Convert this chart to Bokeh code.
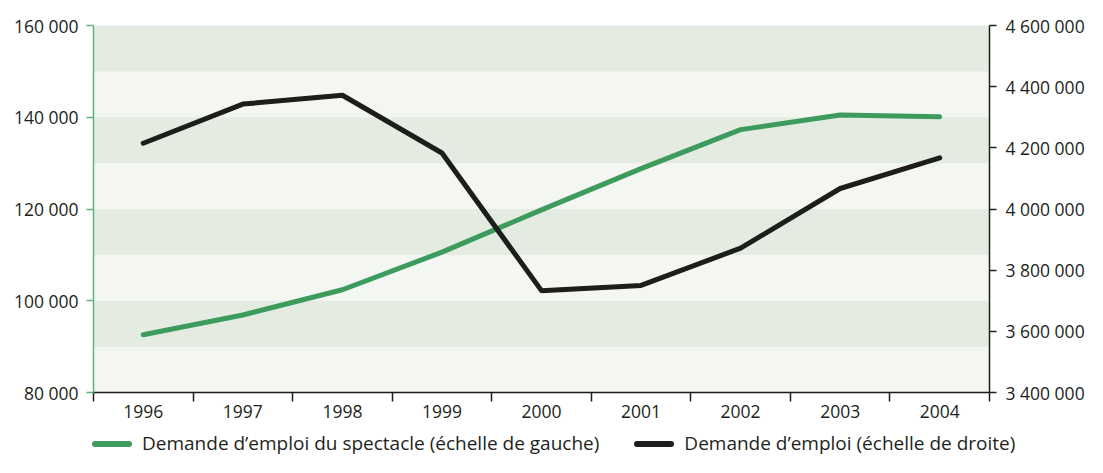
from bokeh.plotting import figure
from bokeh.layouts import column
from bokeh.models import Range1d, LinearAxis, FixedTicker, Div
from bokeh.embed import file_html
from bokeh.resources import INLINE

years = ["1996", "1997", "1998", "1999", "2000", "2001", "2002", "2003", "2004"]
spectacle = [92600, 96900, 102400, 110600, 119800, 128800, 137300, 140500, 140100]
emploi = [4215000, 4343000, 4372000, 4183000, 3733000, 3750000, 3872000, 4067000, 4167000]
left_ticks = [80000, 100000, 120000, 140000, 160000]
right_ticks = [3400000, 3600000, 3800000, 4000000, 4200000, 4400000, 4600000]
series_labels = ["Demande d’emploi du spectacle (échelle de gauche)",
                 "Demande d’emploi (échelle de droite)"]
band_step = 10000

FONT = "Open Sans"
TXT = "#231f20"
GREEN = "#3d9b5e"
AXGREEN = "#5cb37a"
BLACK = "#1d1d1b"

def fmt(v):
    return f"{v:,}".replace(",", " ")

xs = [i + 0.5 for i in range(len(years))]

p = figure(width=1087, height=430, output_backend="svg", toolbar_location=None,
           x_range=Range1d(0, len(years)), y_range=Range1d(left_ticks[0], left_ticks[-1]),
           min_border_left=93, min_border_right=95, min_border_top=25, min_border_bottom=38)
p.extra_y_ranges = {"right": Range1d(right_ticks[0], right_ticks[-1])}
p.grid.visible = False
p.outline_line_color = None
p.background_fill_color = "#f4f6f1"

# bands
bottoms = list(range(left_ticks[0], left_ticks[-1], band_step))
dark_b = [b for i, b in enumerate(bottoms) if i % 2 == 1]
p.quad(left=0, right=len(years), bottom=dark_b, top=[b + band_step for b in dark_b],
       fill_color="#e4ece2", line_color=None)

p.line(xs, spectacle, line_color=GREEN, line_width=5, line_cap="round", line_join="round")
p.line(xs, emploi, line_color=BLACK, line_width=5, line_cap="round", line_join="round",
       y_range_name="right")

# x axis
xa = p.xaxis[0]
xa.ticker = FixedTicker(ticks=xs, minor_ticks=list(range(len(years) + 1)))
xa.major_label_overrides = {x: y for x, y in zip(xs, years)}
xa.major_tick_line_color = None
xa.major_tick_out = 9
xa.minor_tick_out = 9
xa.minor_tick_in = 0
xa.minor_tick_line_color = BLACK
xa.minor_tick_line_width = 1.5
xa.axis_line_color = BLACK
xa.axis_line_width = 1.5
xa.major_label_standoff = 3

# left axis
ya = p.yaxis[0]
ya.ticker = FixedTicker(ticks=left_ticks)
ya.major_label_overrides = {v: fmt(v) for v in left_ticks}
ya.axis_line_color = AXGREEN
ya.major_tick_line_color = AXGREEN
ya.major_tick_out = 7
ya.major_tick_in = 0
ya.minor_tick_line_color = None
ya.major_label_standoff = 8

ra = LinearAxis(y_range_name="right", ticker=FixedTicker(ticks=right_ticks))
ra.major_label_overrides = {v: fmt(v) for v in right_ticks}
ra.axis_line_color = BLACK
ra.major_tick_line_color = BLACK
ra.major_tick_out = 7
ra.major_tick_in = 0
ra.minor_tick_line_color = None
ra.major_label_standoff = 9
p.add_layout(ra, "right")

for ax in [xa, ya, ra]:
    ax.major_label_text_font = FONT
    ax.major_label_text_font_size = "17.5px"
    ax.major_label_text_color = TXT
for ax in [ya, ra]:
    ax.axis_line_width = 1.5
    ax.major_tick_line_width = 1.5

# legend strip (HTML)
def swatch(color, left):
    return (f'<span style="display:inline-block;width:40px;height:6px;border-radius:3px;'
            f'background:{color};vertical-align:middle;margin-left:{left}px;margin-right:10px;'
            f'position:relative;top:-1px"></span>')

html = (f'<div style="font-family:\'{FONT}\';font-size:19px;color:{TXT};line-height:27px;'
        f'white-space:nowrap">'
        f'{swatch(GREEN, 92)}<span>{series_labels[0]}</span>'
        f'{swatch(BLACK, 35)}<span>{series_labels[1]}</span></div>')
leg = Div(text=html, width=1087, height=27, margin=0)

open("out.html", "w").write(file_html(column(p, leg, spacing=0), INLINE))
